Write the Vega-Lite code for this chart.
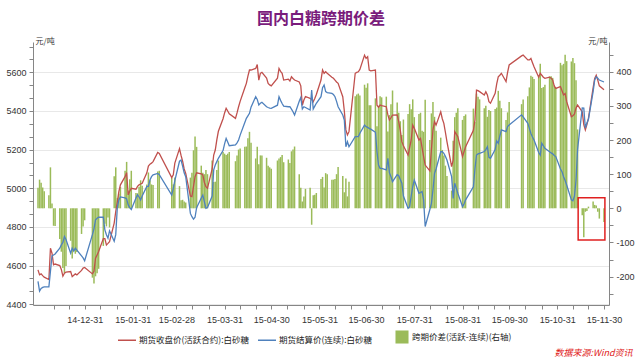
{
"$schema": "https://vega.github.io/schema/vega-lite/v6.json",
"width": 576, "height": 263,
"autosize": {"type": "none"},
"padding": {"left": 33, "top": 42, "right": 31, "bottom": 53},
"background": "white",
"title": {"text": "国内白糖跨期价差", "font": "Noto Sans CJK SC", "fontSize": 16, "fontWeight": "bold", "color": "#7A1C7C", "anchor": "middle", "offset": 10},
"config": {"view": {"stroke": null}, "axis": {"domainColor": "#868686", "tickColor": "#868686", "labelColor": "#333333", "labelFont": "Liberation Sans", "labelFontSize": 9, "titleFont": "Noto Sans CJK SC"}},
"data": {"values": [
{"d":"2014-12-01","c":4578,"s":4518,"v":60},{"d":"2014-12-02","c":4552,"s":4468,"v":84},{"d":"2014-12-03","c":4557,"s":4482,"v":75},{"d":"2014-12-04","c":4548,"s":4487,"v":61},{"d":"2014-12-05","c":4540,"s":4490,"v":50},
{"d":"2014-12-08","c":4528,"s":4490,"v":38},{"d":"2014-12-09","c":4690,"s":4570,"v":120},{"d":"2014-12-10","c":4664,"s":4650,"v":14},{"d":"2014-12-11","c":4604,"s":4655,"v":-51},{"d":"2014-12-12","c":4608,"s":4660,"v":-52},
{"d":"2014-12-15","c":4600,"s":4690,"v":-90},{"d":"2014-12-16","c":4580,"s":4707,"v":-127},{"d":"2014-12-17","c":4545,"s":4720,"v":-175},{"d":"2014-12-18","c":4561,"s":4750,"v":-189},{"d":"2014-12-19","c":4566,"s":4735,"v":-169},
{"d":"2014-12-22","c":4569,"s":4664,"v":-95},{"d":"2014-12-23","c":4543,"s":4690,"v":-147},{"d":"2014-12-24","c":4550,"s":4675,"v":-125},{"d":"2014-12-25","c":4557,"s":4690,"v":-133},{"d":"2014-12-26","c":4552,"s":4680,"v":-128},
{"d":"2014-12-29","c":4575,"s":4650,"v":-75},{"d":"2014-12-30","c":4587,"s":4640,"v":-53},{"d":"2014-12-31","c":4590,"s":4625,"v":-35},
{"d":"2015-01-05","c":4557,"s":4760,"v":-203},{"d":"2015-01-06","c":4570,"s":4790,"v":-220},{"d":"2015-01-07","c":4638,"s":4837,"v":-199},{"d":"2015-01-08","c":4655,"s":4845,"v":-190},{"d":"2015-01-09","c":4673,"s":4850,"v":-177},
{"d":"2015-01-12","c":4740,"s":4850,"v":-110},{"d":"2015-01-13","c":4740,"s":4785,"v":-45},{"d":"2015-01-14","c":4707,"s":4760,"v":-53},{"d":"2015-01-15","c":4715,"s":4742,"v":-27},{"d":"2015-01-16","c":4724,"s":4780,"v":-56},
{"d":"2015-01-19","c":4820,"s":4726,"v":94},{"d":"2015-01-20","c":4880,"s":4760,"v":120},{"d":"2015-01-21","c":4930,"s":4900,"v":30},{"d":"2015-01-22","c":4983,"s":4940,"v":43},{"d":"2015-01-23","c":5018,"s":4955,"v":63},
{"d":"2015-01-26","c":5060,"s":4950,"v":110},{"d":"2015-01-27","c":5081,"s":4945,"v":136},{"d":"2015-01-28","c":4966,"s":4914,"v":52},{"d":"2015-01-29","c":4985,"s":4900,"v":85},{"d":"2015-01-30","c":5000,"s":4890,"v":110},
{"d":"2015-02-02","c":4995,"s":4950,"v":45},{"d":"2015-02-03","c":5010,"s":4966,"v":44},{"d":"2015-02-04","c":5018,"s":4955,"v":63},{"d":"2015-02-05","c":5022,"s":4940,"v":82},{"d":"2015-02-06","c":5026,"s":4960,"v":66},
{"d":"2015-02-09","c":5080,"s":5010,"v":70},{"d":"2015-02-10","c":5115,"s":5010,"v":105},{"d":"2015-02-11","c":5125,"s":5043,"v":82},{"d":"2015-02-12","c":5130,"s":5060,"v":70},{"d":"2015-02-13","c":5138,"s":5070,"v":68},
{"d":"2015-02-16","c":5185,"s":5077,"v":108},{"d":"2015-02-17","c":5180,"s":5070,"v":110},
{"d":"2015-02-25","c":5055,"s":4965,"v":90},{"d":"2015-02-26","c":5070,"s":5000,"v":70},{"d":"2015-02-27","c":5130,"s":5040,"v":90},
{"d":"2015-03-02","c":5205,"s":5140,"v":65},{"d":"2015-03-03","c":5170,"s":5146,"v":24},{"d":"2015-03-04","c":5140,"s":5115,"v":25},{"d":"2015-03-05","c":5100,"s":5080,"v":20},{"d":"2015-03-06","c":5077,"s":5060,"v":17},
{"d":"2015-03-09","c":4960,"s":4870,"v":90},{"d":"2015-03-10","c":4957,"s":4853,"v":104},{"d":"2015-03-11","c":5010,"s":4840,"v":170},{"d":"2015-03-12","c":5060,"s":4850,"v":210},{"d":"2015-03-13","c":5080,"s":4900,"v":180},
{"d":"2015-03-16","c":5075,"s":4950,"v":125},{"d":"2015-03-17","c":5069,"s":4965,"v":104},{"d":"2015-03-18","c":5030,"s":4930,"v":100},{"d":"2015-03-19","c":5008,"s":4896,"v":112},{"d":"2015-03-20","c":5000,"s":4900,"v":100},
{"d":"2015-03-23","c":5100,"s":4960,"v":140},{"d":"2015-03-24","c":5172,"s":5095,"v":77},{"d":"2015-03-25","c":5198,"s":5120,"v":78},{"d":"2015-03-26","c":5250,"s":5138,"v":112},{"d":"2015-03-27","c":5295,"s":5155,"v":140},
{"d":"2015-03-30","c":5360,"s":5195,"v":165},{"d":"2015-03-31","c":5390,"s":5230,"v":160},{"d":"2015-04-01","c":5414,"s":5258,"v":156},{"d":"2015-04-02","c":5400,"s":5240,"v":160},{"d":"2015-04-03","c":5385,"s":5220,"v":165},
{"d":"2015-04-07","c":5362,"s":5224,"v":138},{"d":"2015-04-08","c":5390,"s":5235,"v":155},{"d":"2015-04-09","c":5422,"s":5250,"v":172},{"d":"2015-04-10","c":5450,"s":5275,"v":175},
{"d":"2015-04-13","c":5520,"s":5340,"v":180},{"d":"2015-04-14","c":5543,"s":5362,"v":181},{"d":"2015-04-15","c":5580,"s":5375,"v":205},{"d":"2015-04-16","c":5612,"s":5388,"v":224},{"d":"2015-04-17","c":5612,"s":5420,"v":192},
{"d":"2015-04-20","c":5620,"s":5474,"v":146},{"d":"2015-04-21","c":5640,"s":5460,"v":180},{"d":"2015-04-22","c":5560,"s":5431,"v":129},{"d":"2015-04-23","c":5595,"s":5440,"v":155},{"d":"2015-04-24","c":5600,"s":5445,"v":155},
{"d":"2015-04-27","c":5570,"s":5422,"v":148},{"d":"2015-04-28","c":5543,"s":5418,"v":125},{"d":"2015-04-29","c":5535,"s":5415,"v":120},{"d":"2015-04-30","c":5530,"s":5414,"v":116},
{"d":"2015-05-04","c":5570,"s":5430,"v":140},{"d":"2015-05-05","c":5620,"s":5474,"v":146},{"d":"2015-05-06","c":5605,"s":5455,"v":150},{"d":"2015-05-07","c":5595,"s":5439,"v":156},{"d":"2015-05-08","c":5560,"s":5425,"v":135},
{"d":"2015-05-11","c":5565,"s":5422,"v":143},{"d":"2015-05-12","c":5555,"s":5422,"v":133},{"d":"2015-05-13","c":5577,"s":5410,"v":167},{"d":"2015-05-14","c":5568,"s":5396,"v":172},{"d":"2015-05-15","c":5560,"s":5379,"v":181},
{"d":"2015-05-18","c":5550,"s":5450,"v":100},{"d":"2015-05-19","c":5530,"s":5470,"v":60},{"d":"2015-05-20","c":5430,"s":5410,"v":20},{"d":"2015-05-21","c":5457,"s":5422,"v":35},{"d":"2015-05-22","c":5475,"s":5418,"v":57},
{"d":"2015-05-25","c":5465,"s":5405,"v":60},{"d":"2015-05-26","c":5460,"s":5508,"v":-48},{"d":"2015-05-27","c":5448,"s":5410,"v":38},{"d":"2015-05-28","c":5465,"s":5425,"v":40},{"d":"2015-05-29","c":5485,"s":5440,"v":45},
{"d":"2015-06-01","c":5560,"s":5474,"v":86},{"d":"2015-06-02","c":5612,"s":5520,"v":92},{"d":"2015-06-03","c":5595,"s":5534,"v":61},{"d":"2015-06-04","c":5603,"s":5500,"v":103},{"d":"2015-06-05","c":5595,"s":5495,"v":100},
{"d":"2015-06-08","c":5575,"s":5491,"v":84},{"d":"2015-06-09","c":5569,"s":5485,"v":84},{"d":"2015-06-10","c":5560,"s":5474,"v":86},{"d":"2015-06-11","c":5550,"s":5450,"v":100},{"d":"2015-06-12","c":5543,"s":5422,"v":121},
{"d":"2015-06-15","c":5474,"s":5379,"v":95},{"d":"2015-06-16","c":5400,"s":5353,"v":47},{"d":"2015-06-17","c":5302,"s":5215,"v":87},{"d":"2015-06-18","c":5276,"s":5241,"v":35},{"d":"2015-06-19","c":5293,"s":5215,"v":78},
{"d":"2015-06-23","c":5595,"s":5267,"v":328},{"d":"2015-06-24","c":5600,"s":5267,"v":333},{"d":"2015-06-25","c":5603,"s":5267,"v":336},{"d":"2015-06-26","c":5615,"s":5285,"v":330},
{"d":"2015-06-29","c":5689,"s":5327,"v":362},{"d":"2015-06-30","c":5672,"s":5319,"v":353},{"d":"2015-07-01","c":5681,"s":5315,"v":366},{"d":"2015-07-02","c":5612,"s":5310,"v":302},{"d":"2015-07-03","c":5608,"s":5306,"v":302},
{"d":"2015-07-06","c":5612,"s":5290,"v":322},{"d":"2015-07-07","c":5430,"s":5190,"v":240},{"d":"2015-07-08","c":5420,"s":5120,"v":300},{"d":"2015-07-09","c":5431,"s":5103,"v":328},{"d":"2015-07-10","c":5428,"s":5103,"v":325},
{"d":"2015-07-13","c":5422,"s":5095,"v":327},{"d":"2015-07-14","c":5380,"s":5155,"v":225},{"d":"2015-07-15","c":5353,"s":5080,"v":273},{"d":"2015-07-16","c":5365,"s":5060,"v":305},{"d":"2015-07-17","c":5379,"s":5034,"v":345},
{"d":"2015-07-20","c":5380,"s":5070,"v":310},{"d":"2015-07-21","c":5345,"s":5065,"v":280},{"d":"2015-07-22","c":5300,"s":5045,"v":255},{"d":"2015-07-23","c":5241,"s":5026,"v":215},{"d":"2015-07-24","c":5220,"s":4960,"v":260},
{"d":"2015-07-27","c":5172,"s":4896,"v":276},{"d":"2015-07-28","c":5210,"s":4905,"v":305},{"d":"2015-07-29","c":5250,"s":4960,"v":290},{"d":"2015-07-30","c":5327,"s":5008,"v":319},{"d":"2015-07-31","c":5310,"s":5043,"v":267},
{"d":"2015-08-03","c":5250,"s":4974,"v":276},{"d":"2015-08-04","c":5258,"s":4978,"v":280},{"d":"2015-08-05","c":5210,"s":4983,"v":227},{"d":"2015-08-06","c":5164,"s":4940,"v":224},{"d":"2015-08-07","c":5120,"s":4802,"v":318},
{"d":"2015-08-10","c":5090,"s":4890,"v":200},{"d":"2015-08-11","c":5200,"s":4922,"v":278},{"d":"2015-08-12","c":5302,"s":4991,"v":311},{"d":"2015-08-13","c":5345,"s":5077,"v":268},{"d":"2015-08-14","c":5327,"s":5100,"v":227},
{"d":"2015-08-17","c":5396,"s":5189,"v":207},{"d":"2015-08-18","c":5360,"s":5189,"v":171},{"d":"2015-08-19","c":5336,"s":5181,"v":155},{"d":"2015-08-20","c":5290,"s":5165,"v":125},{"d":"2015-08-21","c":5241,"s":5146,"v":95},
{"d":"2015-08-24","c":5112,"s":5060,"v":52},{"d":"2015-08-25","c":5146,"s":4948,"v":198},{"d":"2015-08-26","c":5293,"s":5026,"v":267},{"d":"2015-08-27","c":5280,"s":5000,"v":280},{"d":"2015-08-28","c":5267,"s":4974,"v":293},
{"d":"2015-08-31","c":5164,"s":4905,"v":259},{"d":"2015-09-01","c":5190,"s":4920,"v":270},{"d":"2015-09-02","c":5215,"s":4940,"v":275},
{"d":"2015-09-07","c":5300,"s":5008,"v":292},{"d":"2015-09-08","c":5353,"s":5100,"v":253},{"d":"2015-09-09","c":5508,"s":5172,"v":336},{"d":"2015-09-10","c":5505,"s":5178,"v":327},{"d":"2015-09-11","c":5500,"s":5181,"v":319},
{"d":"2015-09-14","c":5483,"s":5190,"v":293},{"d":"2015-09-15","c":5500,"s":5200,"v":300},{"d":"2015-09-16","c":5483,"s":5215,"v":268},{"d":"2015-09-17","c":5448,"s":5160,"v":288},{"d":"2015-09-18","c":5440,"s":5155,"v":285},
{"d":"2015-09-21","c":5491,"s":5200,"v":291},{"d":"2015-09-22","c":5540,"s":5245,"v":295},{"d":"2015-09-23","c":5577,"s":5233,"v":344},{"d":"2015-09-24","c":5585,"s":5270,"v":315},{"d":"2015-09-25","c":5595,"s":5302,"v":293},
{"d":"2015-09-28","c":5552,"s":5293,"v":259},{"d":"2015-09-29","c":5600,"s":5319,"v":281},{"d":"2015-09-30","c":5638,"s":5327,"v":311},
{"d":"2015-10-08","c":5685,"s":5380,"v":305},{"d":"2015-10-09","c":5689,"s":5370,"v":319},
{"d":"2015-10-12","c":5664,"s":5336,"v":328},{"d":"2015-10-13","c":5664,"s":5310,"v":354},{"d":"2015-10-14","c":5672,"s":5284,"v":388},{"d":"2015-10-15","c":5650,"s":5265,"v":385},{"d":"2015-10-16","c":5629,"s":5250,"v":379},
{"d":"2015-10-19","c":5575,"s":5185,"v":390},{"d":"2015-10-20","c":5595,"s":5172,"v":423},{"d":"2015-10-21","c":5585,"s":5233,"v":352},{"d":"2015-10-22","c":5575,"s":5220,"v":355},{"d":"2015-10-23","c":5569,"s":5207,"v":362},
{"d":"2015-10-26","c":5575,"s":5189,"v":386},{"d":"2015-10-27","c":5570,"s":5183,"v":387},{"d":"2015-10-28","c":5560,"s":5178,"v":382},{"d":"2015-10-29","c":5530,"s":5170,"v":360},{"d":"2015-10-30","c":5517,"s":5164,"v":353},
{"d":"2015-11-02","c":5526,"s":5100,"v":426},{"d":"2015-11-03","c":5505,"s":5086,"v":419},{"d":"2015-11-04","c":5483,"s":5060,"v":423},{"d":"2015-11-05","c":5490,"s":5040,"v":450},{"d":"2015-11-06","c":5448,"s":5017,"v":431},
{"d":"2015-11-09","c":5370,"s":4940,"v":430},{"d":"2015-11-10","c":5375,"s":4935,"v":440},{"d":"2015-11-11","c":5385,"s":4960,"v":425},{"d":"2015-11-12","c":5415,"s":5040,"v":375},{"d":"2015-11-13","c":5431,"s":5200,"v":231},
{"d":"2015-11-16","c":5396,"s":5416,"v":-20},{"d":"2015-11-17","c":5330,"s":5415,"v":-85},{"d":"2015-11-18","c":5302,"s":5312,"v":-10},{"d":"2015-11-19","c":5330,"s":5338,"v":-8},{"d":"2015-11-20","c":5362,"s":5357,"v":5},
{"d":"2015-11-23","c":5520,"s":5500,"v":20},{"d":"2015-11-24","c":5569,"s":5559,"v":10},{"d":"2015-11-25","c":5585,"s":5577,"v":8},{"d":"2015-11-26","c":5560,"s":5570,"v":-10},{"d":"2015-11-27","c":5530,"s":5560,"v":-30},
{"d":"2015-11-30","c":5510,"s":5550,"v":-40}
]},
"encoding": {
"x": {"field": "d", "type": "temporal",
 "scale": {"type": "utc", "domain": [{"year":2014,"month":12,"date":1,"utc":true},{"year":2015,"month":11,"date":30,"utc":true}], "nice": false},
 "axis": {"values": [
  {"year":2014,"month":12,"date":11,"utc":true},{"year":2014,"month":12,"date":21,"utc":true},{"year":2014,"month":12,"date":31,"utc":true},
  {"year":2015,"month":1,"date":10,"utc":true},{"year":2015,"month":1,"date":21,"utc":true},{"year":2015,"month":1,"date":31,"utc":true},
  {"year":2015,"month":2,"date":9,"utc":true},{"year":2015,"month":2,"date":19,"utc":true},{"year":2015,"month":2,"date":28,"utc":true},
  {"year":2015,"month":3,"date":10,"utc":true},{"year":2015,"month":3,"date":21,"utc":true},{"year":2015,"month":3,"date":31,"utc":true},
  {"year":2015,"month":4,"date":10,"utc":true},{"year":2015,"month":4,"date":20,"utc":true},{"year":2015,"month":4,"date":30,"utc":true},
  {"year":2015,"month":5,"date":10,"utc":true},{"year":2015,"month":5,"date":21,"utc":true},{"year":2015,"month":5,"date":31,"utc":true},
  {"year":2015,"month":6,"date":10,"utc":true},{"year":2015,"month":6,"date":20,"utc":true},{"year":2015,"month":6,"date":30,"utc":true},
  {"year":2015,"month":7,"date":10,"utc":true},{"year":2015,"month":7,"date":21,"utc":true},{"year":2015,"month":7,"date":31,"utc":true},
  {"year":2015,"month":8,"date":10,"utc":true},{"year":2015,"month":8,"date":21,"utc":true},{"year":2015,"month":8,"date":31,"utc":true},
  {"year":2015,"month":9,"date":10,"utc":true},{"year":2015,"month":9,"date":20,"utc":true},{"year":2015,"month":9,"date":30,"utc":true},
  {"year":2015,"month":10,"date":10,"utc":true},{"year":2015,"month":10,"date":21,"utc":true},{"year":2015,"month":10,"date":31,"utc":true},
  {"year":2015,"month":11,"date":10,"utc":true},{"year":2015,"month":11,"date":20,"utc":true},{"year":2015,"month":11,"date":30,"utc":true}],
  "labelExpr": "utcdate(datum.value + 86400000) == 1 ? utcFormat(datum.value, '%y-%m-%d') : ''",
  "labelAngle": 0, "labelOverlap": false, "labelPadding": 6, "tickSize": 4, "grid": false,
  "title": "数据来源:Wind资讯", "titleColor": "#E02020", "titleFontStyle": "italic", "titleFontWeight": "normal", "titleFontSize": 9,
  "titleAnchor": "end", "titleAlign": "right", "titleBaseline": "middle", "titleX": 599, "titleY": 47}}
},
"layer": [
 {"mark": {"type": "bar", "size": 1.5},
  "encoding": {
   "y": {"field": "v", "type": "quantitative", "scale": {"domain": [-283, 487], "nice": false, "zero": false},
    "axis": {"orient": "right", "values": [-250,-200,-150,-100,-50,0,50,100,150,200,250,300,350,400,450],
     "labelExpr": "datum.value % 100 == 0 ? '' + datum.value : ''", "grid": false, "tickSize": 4, "labelPadding": 3,
     "title": "元/吨", "titleAngle": 0, "titleFontSize": 8, "titleFontWeight": "normal", "titleColor": "#333333", "titleX": -2, "titleY": -1, "titleAlign": "right", "titleBaseline": "middle"}},
   "y2": {"datum": 0},
   "fill": {"datum": "跨期价差(活跃-连续)(右轴)", "type": "nominal", "scale": {"range": ["#9BBB59"]},
    "legend": {"orient": "none", "legendX": 362, "legendY": 288, "direction": "horizontal", "title": null, "symbolType": "square", "symbolSize": 170, "symbolStrokeWidth": 0, "labelFont": "Noto Sans CJK SC", "labelFontSize": 8.5, "labelColor": "#222222", "labelOffset": 3}}
  }},
 {"data": {"values": [{"d": "2015-11-13T09:00:00Z", "d2": "2015-11-30T14:00:00Z", "y1": 31, "y2": -93}]},
  "mark": {"type": "rect", "filled": false, "stroke": "#E02020", "strokeWidth": 1.5},
  "encoding": {
   "x2": {"field": "d2"},
   "y": {"field": "y1", "type": "quantitative", "scale": {"domain": [-283, 487], "nice": false, "zero": false}, "axis": null},
   "y2": {"field": "y2"}
  }},
 {"transform": [{"fold": ["c", "s"], "as": ["series", "price"]}],
  "mark": {"type": "line", "strokeWidth": 1.3},
  "encoding": {
   "y": {"field": "price", "type": "quantitative", "scale": {"domain": [4396, 5757], "nice": false, "zero": false},
    "axis": {"orient": "left", "values": [4400,4466.667,4533.333,4600,4666.667,4733.333,4800,4866.667,4933.333,5000,5066.667,5133.333,5200,5266.667,5333.333,5400,5466.667,5533.333,5600,5666.667,5733.333],
     "labelExpr": "abs(datum.value % 200) < 0.01 ? '' + round(datum.value) : ''", "tickSize": 4, "labelPadding": 3,
     "grid": true, "gridColor": "#E8E8E8", "gridOpacity": {"condition": {"test": "abs(datum.value % 200) < 0.01", "value": 1}, "value": 0},
     "title": "元/吨", "titleAngle": 0, "titleFontSize": 8, "titleFontWeight": "normal", "titleColor": "#333333", "titleX": 2, "titleY": -1, "titleAlign": "left", "titleBaseline": "middle"}},
   "stroke": {"field": "series", "type": "nominal", "scale": {"domain": ["c", "s"], "range": ["#C0504D", "#4F81BD"]},
    "legend": {"orient": "none", "legendX": 84, "legendY": 288, "direction": "horizontal", "title": null, "symbolType": "stroke", "symbolSize": 324, "symbolStrokeWidth": 1.5, "labelFont": "Noto Sans CJK SC", "labelFontSize": 8.5, "labelColor": "#222222", "labelOffset": 2, "columnPadding": 5,
     "labelExpr": "datum.value == 'c' ? '期货收盘价(活跃合约):白砂糖' : '期货结算价(连续):白砂糖'"}}
  }}
],
"resolve": {"scale": {"y": "independent", "fill": "independent", "stroke": "independent"}}
}
